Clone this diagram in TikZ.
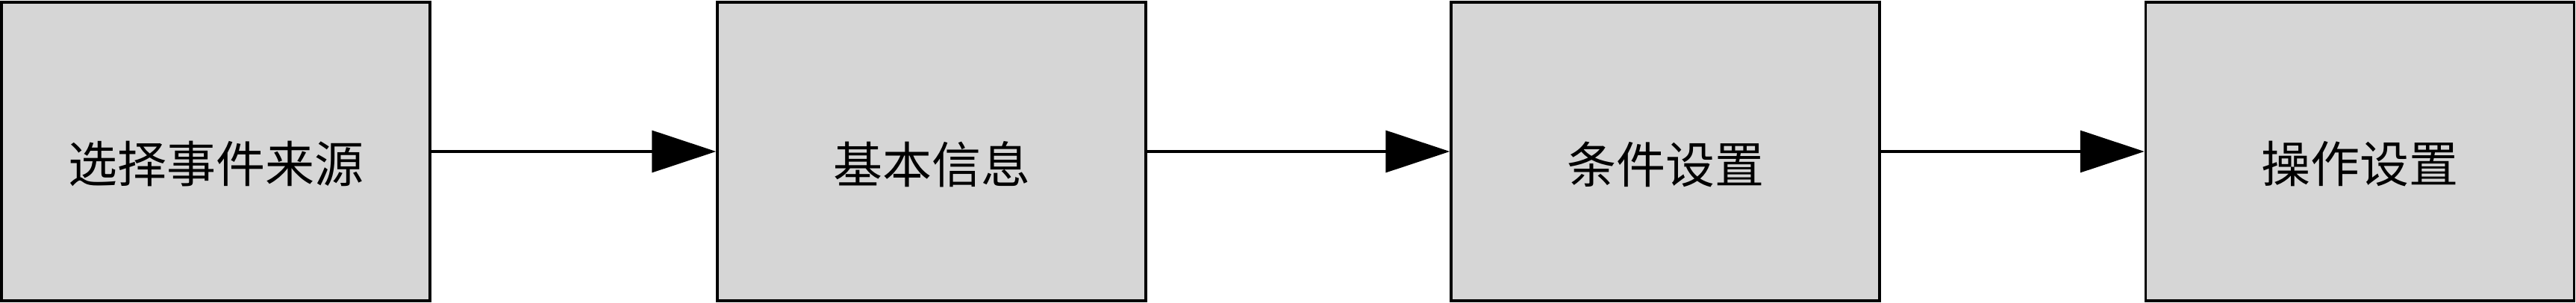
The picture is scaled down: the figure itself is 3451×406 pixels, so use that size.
\documentclass[tikz,border=0pt]{standalone}
\usepackage{fontspec}
\setmainfont{Noto Sans CJK SC}
\usetikzlibrary{arrows.meta}
\definecolor{boxgray}{RGB}{214,214,214}
\tikzset{
  stagebox/.style={draw=black, fill=boxgray, line width=3.5pt, minimum width=574pt, minimum height=400pt, inner sep=0pt},
  stagetext/.style={inner sep=0pt, font=\fontsize{66}{72}\selectfont},
  flow/.style={line width=3.5pt, -{Triangle[length=86pt,width=56pt]}}
}
\begin{document}
\begin{tikzpicture}[x=1pt,y=1pt]
\useasboundingbox (0,0) rectangle (3451,406);
\node[stagebox] (b1) at (289,203) {};
\node[stagebox] (b2) at (1248,203) {};
\node[stagebox] (b3) at (2231,203) {};
\node[stagebox] (b4) at (3161.5,203) {};
\node[stagetext] (t1) at ([yshift=-17pt]b1.center) {选择事件来源};
\node[stagetext] (t2) at ([yshift=-17pt]b2.center) {基本信息};
\node[stagetext] (t3) at ([yshift=-17pt]b3.center) {条件设置};
\node[stagetext] (t4) at ([yshift=-17pt]b4.center) {操作设置};
\draw[flow] (b1.east) -- (b2.west);
\draw[flow] (b2.east) -- (b3.west);
\draw[flow] (b3.east) -- (b4.west);
\end{tikzpicture}
\end{document}
